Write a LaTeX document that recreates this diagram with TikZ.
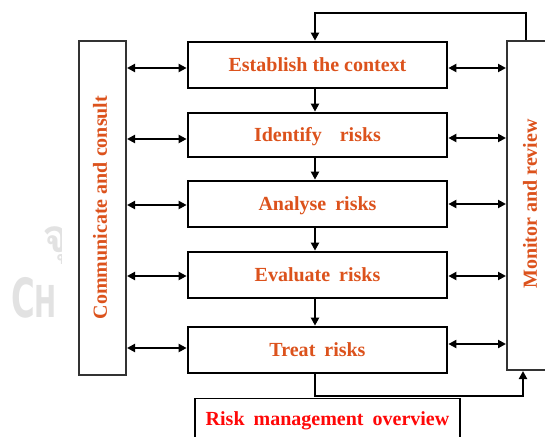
\documentclass[tikz,border=0pt]{standalone}
\usepackage{fontspec}
\setmainfont{Liberation Serif}
\newfontfamily\wmsans{DejaVu Sans}
\newfontfamily\thaifont[Script=Thai]{Loma}
\usetikzlibrary{arrows.meta}
\definecolor{stepred}{RGB}{220,82,28}
\definecolor{titlered}{RGB}{255,8,8}
\definecolor{wmgray}{RGB}{226,226,226}
\tikzset{
  stagebox/.style={draw=black, line width=2.7pt, fill=white, minimum width=259pt,
    minimum height=46pt, inner sep=0pt, text=stepred,
    font=\fontsize{20}{22}\selectfont\bfseries, text height=13pt, text depth=0pt},
  sidebox/.style={draw=black!80, line width=2pt, fill=white, inner sep=0pt},
  sidetext/.style={rotate=90, text=stepred, inner sep=0pt,
    font=\fontsize{20}{22}\selectfont\bfseries},
  flow/.style={line width=2pt, -{Triangle[length=8pt,width=8pt]}},
  link/.style={line width=2pt, {Triangle[length=8pt,width=8pt]}-{Triangle[length=8pt,width=8pt]}},
}
\begin{document}
\begin{tikzpicture}[x=1pt,y=-1pt]
\useasboundingbox (0,0) rectangle (545,436);
\clip (0,0) rectangle (545,436);

% faint watermark at the left margin
\begin{scope}
  \clip (0,200) rectangle (61,340);
  \node[anchor=base west, inner sep=0pt, text=wmgray, xscale=0.6,
    font=\wmsans\bfseries\fontsize{54}{54}\selectfont] (wmlatin) at (11,317)
    {C\fontsize{44}{44}\selectfont H};
  \node[anchor=base west, inner sep=0pt, text=wmgray,
    font=\thaifont\bfseries\fontsize{46}{46}\selectfont] (wmthai) at (42,252) {จุฬาลงกรณ์};
\end{scope}

% side panels
\node[sidebox, minimum width=47pt, minimum height=334pt] (cc) at (102.5,208) {};
\node[sidetext] (cctext) at (100,207.5) {Communicate and consult};
\node[sidebox, minimum width=50pt, minimum height=329pt] (mr) at (532,205.5) {};
\node[sidetext] (mrtext) at (530,204) {Monitor and review};

% process steps
\node[stagebox] (est) at (317.5,65) {Establish the context};
\node[stagebox, minimum height=44pt] (idf) at (317.5,135) {Identify\hspace{18pt}risks};
\node[stagebox] (ana) at (317.5,204) {Analyse\hspace{9pt}risks};
\node[stagebox] (eva) at (317.5,275) {Evaluate\hspace{9pt}risks};
\node[stagebox] (trt) at (317.5,350) {Treat\hspace{9pt}risks};

% title box
\node[draw=black, line width=1.3pt, fill=white, anchor=north, minimum width=265pt,
  inner xsep=0pt, inner ysep=14pt, text height=13pt, text depth=0pt, text=titlered,
  font=\fontsize{20}{22}\selectfont\bfseries] (ov) at (327.5,398)
  {Risk\hspace{9pt}management\hspace{9pt}overview};

% helper coordinates
\coordinate (spine) at (315,0);
\coordinate (fbx) at (526,13);
\coordinate (upx) at (523,0);
\coordinate (lowy) at (0,396);

% main sequence
\draw[flow] (est.south -| spine) -- (idf.north -| spine);
\draw[flow] (idf.south -| spine) -- (ana.north -| spine);
\draw[flow] (ana.south -| spine) -- (eva.north -| spine);
\draw[flow] (eva.south -| spine) -- (trt.north -| spine);

% feedback loops
\draw[flow, line width=2.5pt] (mr.north -| fbx) -- (fbx) -| (est.north -| spine);
\draw[flow, line width=2.5pt] (trt.south -| spine) |- (upx |- lowy) -- (mr.south -| upx);

% links to communicate and consult
\draw[link] ([yshift=-3pt]est.west -| cc.east) -- ([yshift=-3pt]est.west);
\draw[link] ([yshift=-4pt]idf.west -| cc.east) -- ([yshift=-4pt]idf.west);
\draw[link] ([yshift=-1pt]ana.west -| cc.east) -- ([yshift=-1pt]ana.west);
\draw[link] ([yshift=-1pt]eva.west -| cc.east) -- ([yshift=-1pt]eva.west);
\draw[link] ([yshift=2pt]trt.west -| cc.east) -- ([yshift=2pt]trt.west);

% links to monitor and review
\draw[link] ([yshift=-3pt]est.east) -- ([yshift=-3pt]est.east -| mr.west);
\draw[link] ([yshift=-3pt]idf.east) -- ([yshift=-3pt]idf.east -| mr.west);
\draw[link] (ana.east) -- (ana.east -| mr.west);
\draw[link] ([yshift=-1pt]eva.east) -- ([yshift=-1pt]eva.east -| mr.west);
\draw[link] ([yshift=6pt]trt.east) -- ([yshift=6pt]trt.east -| mr.west);
\end{tikzpicture}
\end{document}
